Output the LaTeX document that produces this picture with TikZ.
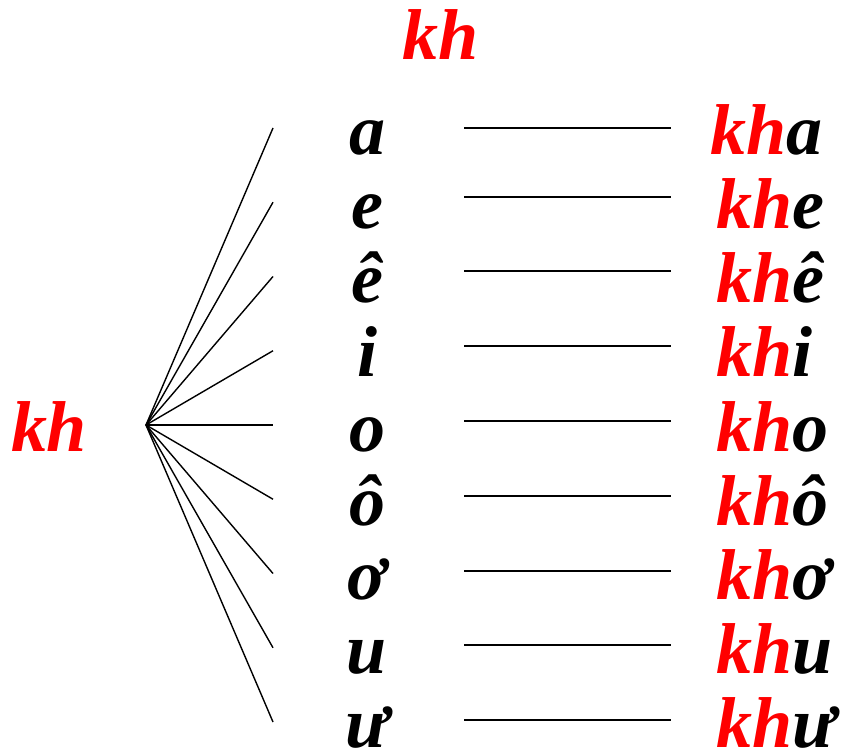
\documentclass[tikz,border=0pt]{standalone}
\usepackage{fontspec}
\setmainfont{Liberation Serif}
\definecolor{kred}{RGB}{255,0,0}
\tikzset{
  big/.style={font=\fontsize{72}{72}\selectfont\bfseries\itshape, inner sep=0pt, outer sep=0pt},
  redtxt/.style={big, text=kred},
  vowel/.style={big, anchor=base},
  combo/.style={big, anchor=base west},
  conn/.style={line width=1.4pt, black}
}
\begin{document}
\begin{tikzpicture}[x=1pt,y=-1pt]
\useasboundingbox (0,0) rectangle (844,751);
\node[redtxt, anchor=base west] (top) at (402,60) {kh};
\node[redtxt, anchor=base west] (left) at (11,452) {kh};
\coordinate (o) at (146,425);
\foreach \v/\i in {a/1,e/2,ê/3,i/4,o/5,ô/6,ơ/7,u/8,ư/9}{
  \pgfmathsetmacro{\fy}{128+74.25*(\i-1)}
  \pgfmathsetmacro{\hy}{128+74*(\i-1)-(\i==2 ? 5 : 0)-(\i==3?5:0)-(\i==4?4:0)-(\i==5?3:0)-(\i==6?2:0)-(\i==7?1:0)-(\i==8?1:0)-(\i==9?0:0)}
  \pgfmathsetmacro{\by}{155+74*(\i-1)}
  \coordinate (f\i) at (273,\fy);
  \draw[conn] (o) -- (f\i);
  \node[vowel] (v\i) at (367,\by) {\v};
  \coordinate (l\i) at (464,\hy);
  \coordinate (r\i) at (671,\hy);
  \draw[conn] (l\i) -- (r\i);
}
\foreach \v/\i in {a/1,e/2,ê/3,i/4,o/5,ô/6,ơ/7,u/8,ư/9}{
  \pgfmathsetmacro{\by}{155+74*(\i-1)}
  \pgfmathsetmacro{\cx}{\i==1 ? 710 : 716}
  \node[combo] (c\i) at (\cx,\by) {\textcolor{kred}{kh}\v};
}
\end{tikzpicture}
\end{document}
